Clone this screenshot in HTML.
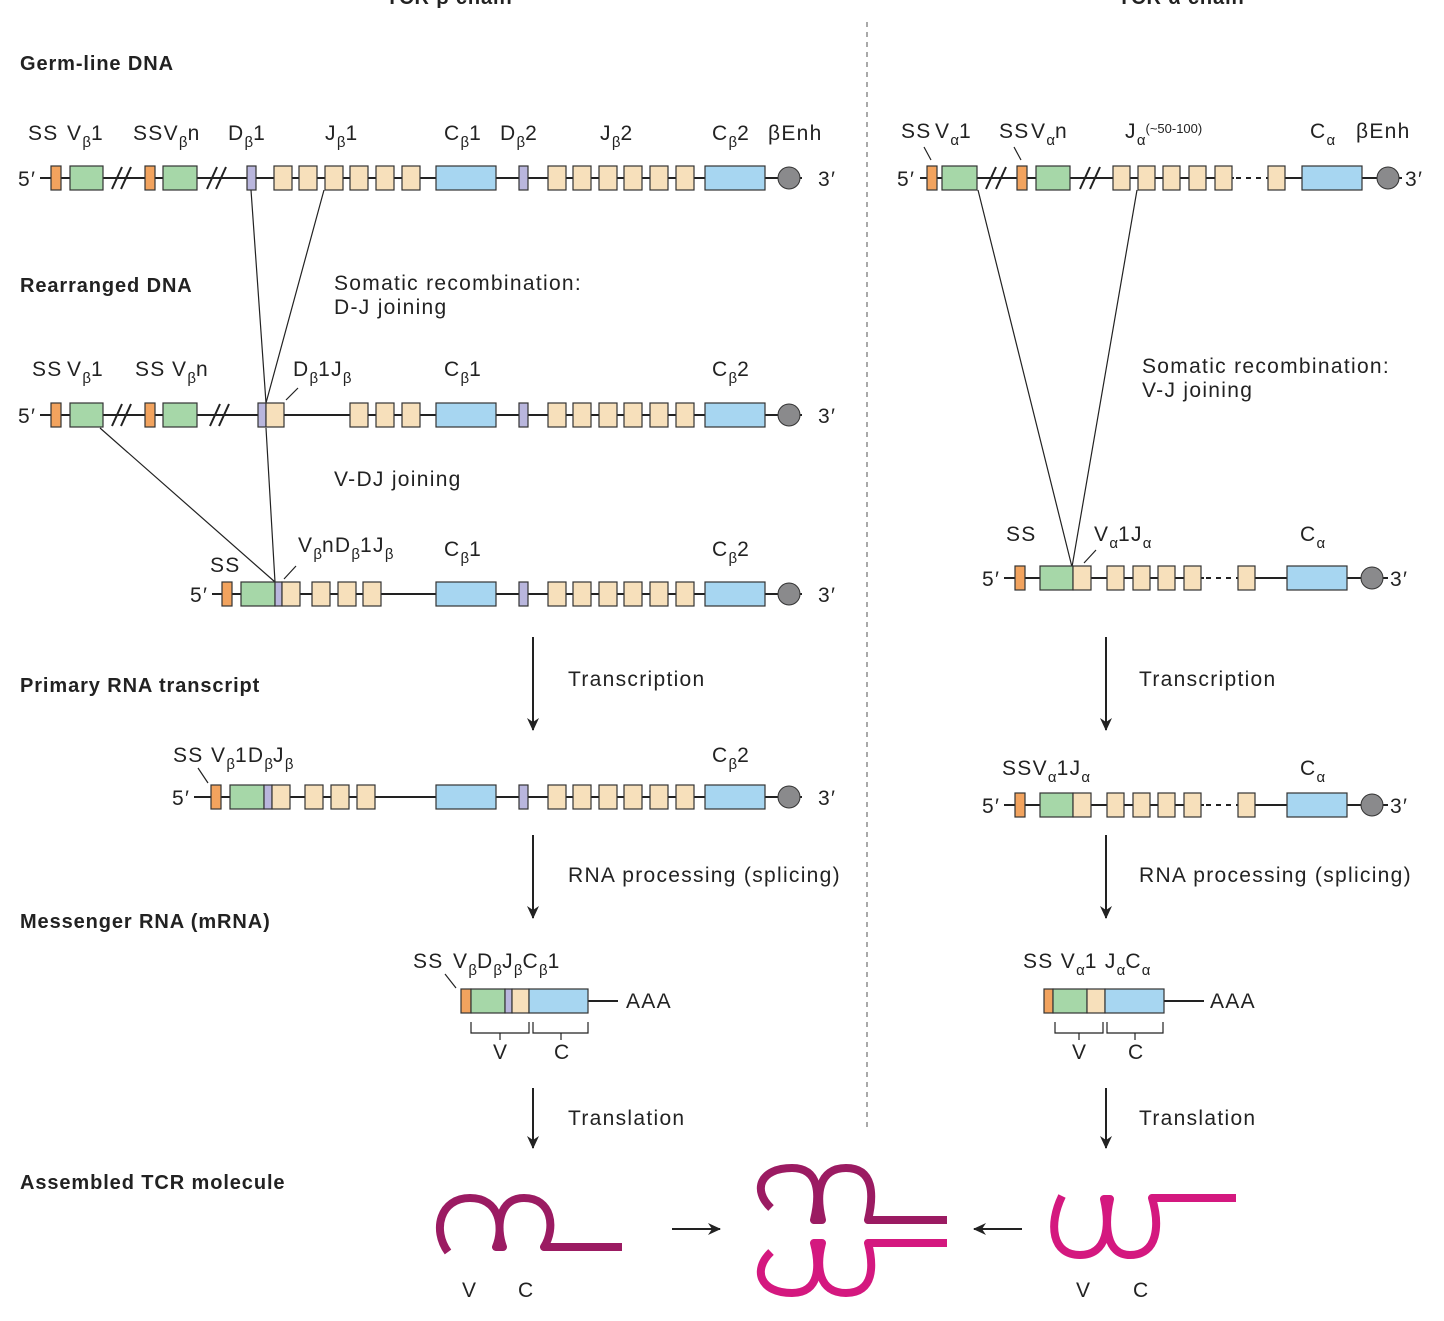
<!DOCTYPE html>
<html><head><meta charset="utf-8"><style>
html,body{margin:0;padding:0;background:#fff}
svg{display:block}
text{font-family:"Liberation Sans",sans-serif;font-size:21px;fill:#222;letter-spacing:1.3px}
.b{font-weight:bold;font-size:20px;letter-spacing:0.9px}
.s{font-size:15px;letter-spacing:0}
.bx{stroke:#333;stroke-width:1.2}
.o{fill:#f2a35e}.g{fill:#a6d7a8}.p{fill:#b9b6dd}.t{fill:#f7e0bb}.c{fill:#a7d6f1}
.ln{stroke:#222;stroke-width:2;fill:none}
.th{stroke:#222;stroke-width:1.2;fill:none}
</style></head><body>
<svg width="1444" height="1321" viewBox="0 0 1444 1321" xmlns="http://www.w3.org/2000/svg">
<defs>
<marker id="ah" markerWidth="14" markerHeight="14" refX="12" refY="6" orient="auto" markerUnits="userSpaceOnUse"><path d="M0,0 L13,6 L0,12 L4,6z" fill="#222"/></marker>
</defs>
<text x="386" y="4" class="b">TCR β chain</text>
<text x="1118" y="4" class="b">TCR α chain</text>
<line x1="867" y1="22" x2="867" y2="1128" stroke="#aaa" stroke-width="2" stroke-dasharray="5,5"/>

<text x="20" y="70" class="b">Germ-line DNA</text>
<text x="20" y="292" class="b">Rearranged DNA</text>
<text x="20" y="692" class="b">Primary RNA transcript</text>
<text x="20" y="928" class="b">Messenger RNA (mRNA)</text>
<text x="20" y="1189" class="b">Assembled TCR molecule</text>

<!-- ROW 1 beta -->
<text x="18" y="186">5′</text>
<line class="ln" x1="40" y1="178" x2="802" y2="178"/>
<path class="ln" d="M112,189 L122,167 M121,189 L131,167 M207,189 L217,167 M216,189 L226,167"/>
<rect class="bx o" x="51" y="166" width="10" height="24"/>
<rect class="bx g" x="70" y="166" width="33" height="24"/>
<rect class="bx o" x="145" y="166" width="10" height="24"/>
<rect class="bx g" x="163" y="166" width="34" height="24"/>
<rect class="bx p" x="247" y="166" width="9" height="24"/>
<g class="bx t"><rect x="274" y="166" width="18" height="24"/><rect x="299" y="166" width="18" height="24"/><rect x="325" y="166" width="18" height="24"/><rect x="350" y="166" width="18" height="24"/><rect x="376" y="166" width="18" height="24"/><rect x="402" y="166" width="18" height="24"/></g>
<rect class="bx c" x="436" y="166" width="60" height="24"/>
<rect class="bx p" x="519" y="166" width="9" height="24"/>
<g class="bx t"><rect x="548" y="166" width="18" height="24"/><rect x="573" y="166" width="18" height="24"/><rect x="599" y="166" width="18" height="24"/><rect x="624" y="166" width="18" height="24"/><rect x="650" y="166" width="18" height="24"/><rect x="676" y="166" width="18" height="24"/></g>
<rect class="bx c" x="705" y="166" width="60" height="24"/>
<circle cx="789" cy="178" r="11" fill="#8a8a8c" stroke="#333"/>
<text x="818" y="186">3′</text>
<text x="28" y="140">SS</text>
<text x="67" y="140">V<tspan class="s" dy="7">β</tspan><tspan dy="-7">1</tspan></text>
<text x="133" y="140">SSV<tspan class="s" dy="7">β</tspan><tspan dy="-7">n</tspan></text>
<text x="228" y="140">D<tspan class="s" dy="7">β</tspan><tspan dy="-7">1</tspan></text>
<text x="325" y="140">J<tspan class="s" dy="7">β</tspan><tspan dy="-7">1</tspan></text>
<text x="444" y="140">C<tspan class="s" dy="7">β</tspan><tspan dy="-7">1</tspan></text>
<text x="500" y="140">D<tspan class="s" dy="7">β</tspan><tspan dy="-7">2</tspan></text>
<text x="600" y="140">J<tspan class="s" dy="7">β</tspan><tspan dy="-7">2</tspan></text>
<text x="712" y="140">C<tspan class="s" dy="7">β</tspan><tspan dy="-7">2</tspan></text>
<text x="768" y="140">βEnh</text>

<!-- ROW 1 alpha -->
<text x="897" y="186">5′</text>
<line class="ln" x1="920" y1="178" x2="1402" y2="178"/>
<rect fill="#fff" x="1234" y="170" width="32" height="16"/>
<path class="ln" d="M986,189 L996,167 M996,189 L1006,167 M1080,189 L1090,167 M1090,189 L1100,167"/>
<path class="ln" d="M1236,178 H1264" stroke-dasharray="5,5"/>
<rect class="bx o" x="927" y="166" width="10" height="24"/>
<rect class="bx g" x="942" y="166" width="35" height="24"/>
<rect class="bx o" x="1017" y="166" width="10" height="24"/>
<rect class="bx g" x="1036" y="166" width="34" height="24"/>
<g class="bx t"><rect x="1113" y="166" width="17" height="24"/><rect x="1138" y="166" width="17" height="24"/><rect x="1163" y="166" width="17" height="24"/><rect x="1189" y="166" width="17" height="24"/><rect x="1215" y="166" width="17" height="24"/><rect x="1268" y="166" width="17" height="24"/></g>
<rect class="bx c" x="1302" y="166" width="60" height="24"/>
<circle cx="1388" cy="178" r="11" fill="#8a8a8c" stroke="#333"/>
<text x="1405" y="186">3′</text>
<text x="901" y="138">SS</text>
<text x="935" y="138">V<tspan class="s" dy="7">α</tspan><tspan dy="-7">1</tspan></text>
<text x="999" y="138">SS</text>
<text x="1031" y="138">V<tspan class="s" dy="7">α</tspan><tspan dy="-7">n</tspan></text>
<text x="1125" y="138">J<tspan class="s" dy="7">α</tspan><tspan class="s" dy="-12" style="font-size:13px">(~50-100)</tspan></text>
<text x="1310" y="138">C<tspan class="s" dy="7">α</tspan></text>
<text x="1356" y="138">βEnh</text>
<path class="th" d="M924,147 L931,160 M1014,147 L1021,160"/>

<!-- connecting lines -->
<path class="th" d="M251,190 L266,403 M324,190 L266,403 M100,428 L275,582 M266,428 L275,582"/>
<path class="th" d="M978,190 L1072,567 M1137,190 L1072,567"/>
<text x="334" y="290">Somatic recombination:</text>
<text x="334" y="314">D-J joining</text>
<text x="334" y="486">V-DJ joining</text>
<text x="1142" y="373">Somatic recombination:</text>
<text x="1142" y="397">V-J joining</text>

<!-- ROW 2 beta -->
<text x="18" y="423">5′</text>
<line class="ln" x1="40" y1="415" x2="802" y2="415"/>
<path class="ln" d="M112,426 L122,404 M121,426 L131,404 M210,426 L220,404 M219,426 L229,404"/>
<rect class="bx o" x="51" y="403" width="10" height="24"/>
<rect class="bx g" x="70" y="403" width="33" height="24"/>
<rect class="bx o" x="145" y="403" width="10" height="24"/>
<rect class="bx g" x="163" y="403" width="34" height="24"/>
<rect class="bx p" x="258" y="403" width="8" height="24"/>
<g class="bx t"><rect x="266" y="403" width="18" height="24"/><rect x="350" y="403" width="18" height="24"/><rect x="376" y="403" width="18" height="24"/><rect x="402" y="403" width="18" height="24"/></g>
<rect class="bx c" x="436" y="403" width="60" height="24"/>
<rect class="bx p" x="519" y="403" width="9" height="24"/>
<g class="bx t"><rect x="548" y="403" width="18" height="24"/><rect x="573" y="403" width="18" height="24"/><rect x="599" y="403" width="18" height="24"/><rect x="624" y="403" width="18" height="24"/><rect x="650" y="403" width="18" height="24"/><rect x="676" y="403" width="18" height="24"/></g>
<rect class="bx c" x="705" y="403" width="60" height="24"/>
<circle cx="789" cy="415" r="11" fill="#8a8a8c" stroke="#333"/>
<text x="818" y="423">3′</text>
<text x="32" y="376">SS</text>
<text x="67" y="376">V<tspan class="s" dy="7">β</tspan><tspan dy="-7">1</tspan></text>
<text x="135" y="376">SS</text>
<text x="172" y="376">V<tspan class="s" dy="7">β</tspan><tspan dy="-7">n</tspan></text>
<text x="293" y="376">D<tspan class="s" dy="7">β</tspan><tspan dy="-7">1J</tspan><tspan class="s" dy="7">β</tspan></text>
<text x="444" y="376">C<tspan class="s" dy="7">β</tspan><tspan dy="-7">1</tspan></text>
<text x="712" y="376">C<tspan class="s" dy="7">β</tspan><tspan dy="-7">2</tspan></text>
<path class="th" d="M298,388 L286,400"/>

<!-- ROW 3 beta -->
<text x="190" y="602">5′</text>
<line class="ln" x1="212" y1="594" x2="802" y2="594"/>
<rect class="bx o" x="222" y="582" width="10" height="24"/>
<rect class="bx g" x="241" y="582" width="34" height="24"/>
<rect class="bx p" x="275" y="582" width="7" height="24"/>
<g class="bx t"><rect x="282" y="582" width="18" height="24"/><rect x="312" y="582" width="18" height="24"/><rect x="338" y="582" width="18" height="24"/><rect x="363" y="582" width="18" height="24"/></g>
<rect class="bx c" x="436" y="582" width="60" height="24"/>
<rect class="bx p" x="519" y="582" width="9" height="24"/>
<g class="bx t"><rect x="548" y="582" width="18" height="24"/><rect x="573" y="582" width="18" height="24"/><rect x="599" y="582" width="18" height="24"/><rect x="624" y="582" width="18" height="24"/><rect x="650" y="582" width="18" height="24"/><rect x="676" y="582" width="18" height="24"/></g>
<rect class="bx c" x="705" y="582" width="60" height="24"/>
<circle cx="789" cy="594" r="11" fill="#8a8a8c" stroke="#333"/>
<text x="818" y="602">3′</text>
<text x="210" y="572">SS</text>
<text x="298" y="552">V<tspan class="s" dy="7">β</tspan><tspan dy="-7">nD</tspan><tspan class="s" dy="7">β</tspan><tspan dy="-7">1J</tspan><tspan class="s" dy="7">β</tspan></text>
<text x="444" y="556">C<tspan class="s" dy="7">β</tspan><tspan dy="-7">1</tspan></text>
<text x="712" y="556">C<tspan class="s" dy="7">β</tspan><tspan dy="-7">2</tspan></text>
<path class="th" d="M296,566 L284,579"/>

<!-- ROW 3 alpha -->
<text x="982" y="586">5′</text>
<line class="ln" x1="1004" y1="578" x2="1388" y2="578"/>
<rect fill="#fff" x="1204" y="570" width="32" height="16"/>
<path class="ln" d="M1206,578 H1236" stroke-dasharray="5,5"/>
<rect class="bx o" x="1015" y="566" width="10" height="24"/>
<rect class="bx g" x="1040" y="566" width="33" height="24"/>
<g class="bx t"><rect x="1073" y="566" width="18" height="24"/><rect x="1107" y="566" width="17" height="24"/><rect x="1133" y="566" width="17" height="24"/><rect x="1158" y="566" width="17" height="24"/><rect x="1184" y="566" width="17" height="24"/><rect x="1238" y="566" width="17" height="24"/></g>
<rect class="bx c" x="1287" y="566" width="60" height="24"/>
<circle cx="1372" cy="578" r="11" fill="#8a8a8c" stroke="#333"/>
<text x="1390" y="586">3′</text>
<text x="1006" y="541">SS</text>
<text x="1094" y="541">V<tspan class="s" dy="7">α</tspan><tspan dy="-7">1J</tspan><tspan class="s" dy="7">α</tspan></text>
<text x="1300" y="541">C<tspan class="s" dy="7">α</tspan></text>
<path class="th" d="M1096,550 L1084,563"/>

<!-- arrows -->
<g class="ln" marker-end="url(#ah)">
<line x1="533" y1="637" x2="533" y2="730"/><line x1="1106" y1="637" x2="1106" y2="730"/>
<line x1="533" y1="835" x2="533" y2="918"/><line x1="1106" y1="835" x2="1106" y2="918"/>
<line x1="533" y1="1088" x2="533" y2="1148"/><line x1="1106" y1="1088" x2="1106" y2="1148"/>
<line x1="672" y1="1229" x2="720" y2="1229"/><line x1="1022" y1="1229" x2="974" y2="1229"/>
</g>
<text x="568" y="686">Transcription</text>
<text x="1139" y="686">Transcription</text>
<text x="568" y="882">RNA processing (splicing)</text>
<text x="1139" y="882">RNA processing (splicing)</text>
<text x="568" y="1125">Translation</text>
<text x="1139" y="1125">Translation</text>

<!-- Primary RNA beta -->
<text x="172" y="805">5′</text>
<line class="ln" x1="194" y1="797" x2="802" y2="797"/>
<rect class="bx o" x="211" y="785" width="10" height="24"/>
<rect class="bx g" x="230" y="785" width="34" height="24"/>
<rect class="bx p" x="264" y="785" width="8" height="24"/>
<g class="bx t"><rect x="272" y="785" width="18" height="24"/><rect x="305" y="785" width="18" height="24"/><rect x="331" y="785" width="18" height="24"/><rect x="357" y="785" width="18" height="24"/></g>
<rect class="bx c" x="436" y="785" width="60" height="24"/>
<rect class="bx p" x="519" y="785" width="9" height="24"/>
<g class="bx t"><rect x="548" y="785" width="18" height="24"/><rect x="573" y="785" width="18" height="24"/><rect x="599" y="785" width="18" height="24"/><rect x="624" y="785" width="18" height="24"/><rect x="650" y="785" width="18" height="24"/><rect x="676" y="785" width="18" height="24"/></g>
<rect class="bx c" x="705" y="785" width="60" height="24"/>
<circle cx="789" cy="797" r="11" fill="#8a8a8c" stroke="#333"/>
<text x="818" y="805">3′</text>
<text x="173" y="762">SS</text>
<text x="211" y="762">V<tspan class="s" dy="7">β</tspan><tspan dy="-7">1D</tspan><tspan class="s" dy="7">β</tspan><tspan dy="-7">J</tspan><tspan class="s" dy="7">β</tspan></text>
<text x="712" y="762">C<tspan class="s" dy="7">β</tspan><tspan dy="-7">2</tspan></text>
<path class="th" d="M198,768 L208,783"/>

<!-- Primary RNA alpha -->
<text x="982" y="813">5′</text>
<line class="ln" x1="1004" y1="805" x2="1388" y2="805"/>
<rect fill="#fff" x="1204" y="797" width="32" height="16"/>
<path class="ln" d="M1206,805 H1236" stroke-dasharray="5,5"/>
<rect class="bx o" x="1015" y="793" width="10" height="24"/>
<rect class="bx g" x="1040" y="793" width="33" height="24"/>
<g class="bx t"><rect x="1073" y="793" width="18" height="24"/><rect x="1107" y="793" width="17" height="24"/><rect x="1133" y="793" width="17" height="24"/><rect x="1158" y="793" width="17" height="24"/><rect x="1184" y="793" width="17" height="24"/><rect x="1238" y="793" width="17" height="24"/></g>
<rect class="bx c" x="1287" y="793" width="60" height="24"/>
<circle cx="1372" cy="805" r="11" fill="#8a8a8c" stroke="#333"/>
<text x="1390" y="813">3′</text>
<text x="1002" y="775">SSV<tspan class="s" dy="7">α</tspan><tspan dy="-7">1J</tspan><tspan class="s" dy="7">α</tspan></text>
<text x="1300" y="775">C<tspan class="s" dy="7">α</tspan></text>

<!-- mRNA beta -->
<line class="ln" x1="588" y1="1001" x2="618" y2="1001"/>
<rect class="bx o" x="461" y="989" width="10" height="24"/>
<rect class="bx g" x="471" y="989" width="34" height="24"/>
<rect class="bx p" x="505" y="989" width="7" height="24"/>
<rect class="bx t" x="512" y="989" width="17" height="24"/>
<rect class="bx c" x="529" y="989" width="59" height="24"/>
<text x="626" y="1008">AAA</text>
<text x="413" y="968">SS</text>
<text x="453" y="968">V<tspan class="s" dy="7">β</tspan><tspan dy="-7">D</tspan><tspan class="s" dy="7">β</tspan><tspan dy="-7">J</tspan><tspan class="s" dy="7">β</tspan><tspan dy="-7">C</tspan><tspan class="s" dy="7">β</tspan><tspan dy="-7">1</tspan></text>
<path class="th" d="M445,974 L456,988"/>
<path class="th" d="M471,1022 V1033 H529 V1022 M500,1033 V1040 M533,1022 V1033 H588 V1022 M561,1033 V1040"/>
<text x="493" y="1059">V</text>
<text x="554" y="1059">C</text>

<!-- mRNA alpha -->
<line class="ln" x1="1164" y1="1001" x2="1204" y2="1001"/>
<rect class="bx o" x="1044" y="989" width="9" height="24"/>
<rect class="bx g" x="1053" y="989" width="34" height="24"/>
<rect class="bx t" x="1087" y="989" width="18" height="24"/>
<rect class="bx c" x="1105" y="989" width="59" height="24"/>
<text x="1210" y="1008">AAA</text>
<text x="1023" y="968">SS V<tspan class="s" dy="7">α</tspan><tspan dy="-7">1 J</tspan><tspan class="s" dy="7">α</tspan><tspan dy="-7">C</tspan><tspan class="s" dy="7">α</tspan></text>
<path class="th" d="M1055,1022 V1033 H1103 V1022 M1079,1033 V1040 M1107,1022 V1033 H1163 V1022 M1135,1033 V1040"/>
<text x="1072" y="1059">V</text>
<text x="1128" y="1059">C</text>

<!-- TCR molecules -->
<g fill="none" stroke-width="8" stroke-linejoin="round">
<path stroke="#9b1b62" d="M448,1252 C432,1230 440,1198 470,1198 C500,1198 504,1228 496,1247 L503,1247 C496,1228 498,1198 524,1198 C552,1198 556,1228 544,1247 L622,1247"/>
<path stroke="#9b1b62" d="M771,1208 C752,1190 760,1168 792,1168 C820,1168 820,1195 814,1220 L822,1220 C816,1195 818,1168 846,1168 C874,1168 874,1195 868,1220 L947,1220"/>
<path stroke="#d4187f" d="M771,1252 C752,1270 760,1293 792,1293 C820,1293 820,1266 814,1243 L822,1243 C816,1266 818,1293 846,1293 C874,1293 874,1266 868,1243 L947,1243"/>
<path stroke="#d4187f" d="M1062,1196 C1048,1225 1052,1255 1080,1255 C1108,1255 1110,1225 1104,1199 L1110,1199 C1104,1225 1106,1255 1130,1255 C1158,1255 1160,1225 1152,1198 L1236,1198"/>
</g>
<text x="462" y="1297">V</text>
<text x="518" y="1297">C</text>
<text x="1076" y="1297">V</text>
<text x="1133" y="1297">C</text>
</svg>
</body></html>
